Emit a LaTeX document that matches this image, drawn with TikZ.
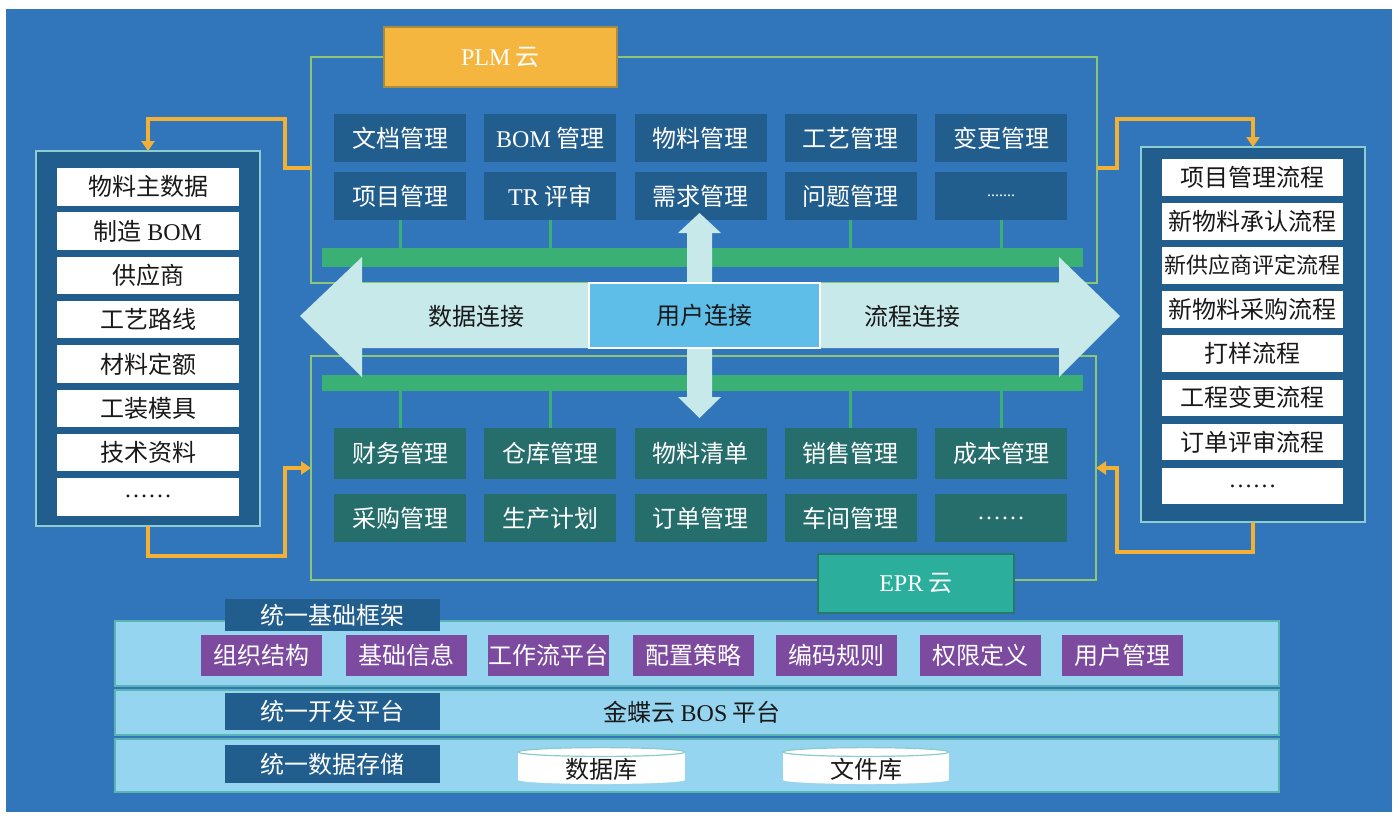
\documentclass[tikz,border=0pt]{standalone}
\usepackage{fontspec}
\setmainfont{Liberation Serif}
\newfontfamily\cjk{Noto Sans CJK SC}
\usetikzlibrary{arrows.meta}
\definecolor{bgblue}{RGB}{49,117,186}
\definecolor{dkblue}{RGB}{33,93,141}
\definecolor{dkteal}{RGB}{37,110,108}
\definecolor{busgreen}{RGB}{58,176,116}
\definecolor{framegreen}{RGB}{140,198,118}
\definecolor{orng}{RGB}{242,177,52}
\definecolor{plmorange}{RGB}{244,182,62}
\definecolor{arrowcyan}{RGB}{200,233,234}
\definecolor{userblue}{RGB}{94,190,232}
\definecolor{bandblue}{RGB}{150,213,240}
\definecolor{bandedge}{RGB}{90,180,180}
\definecolor{purp}{RGB}{124,74,158}
\definecolor{eprteal}{RGB}{44,174,156}
\definecolor{panelborder}{RGB}{140,205,210}
\definecolor{txtdark}{RGB}{25,25,25}
\newcommand\lt[1]{{\rmfamily #1}}
\newcommand\bx[7]{\pgfmathsetmacro\myw{(#4-#2)*0.5}\pgfmathsetmacro\myh{(#5-#3)*0.5}\node[#6,minimum width=\myw pt,minimum height=\myh pt] (#1) at ({(#2+#4)/2},{(#3+#5)/2}) {#7};}
\tikzset{
  every node/.style={inner sep=0pt, outer sep=0pt, font=\cjk\fontsize{12}{14}\selectfont},
  sModP/.style={fill=dkblue, text=white},
  sModE/.style={fill=dkteal, text=white},
  sFrame/.style={draw=framegreen, line width=1.2pt},
  sBus/.style={fill=busgreen},
  sStub/.style={draw=busgreen, line width=1.5pt},
  sPanel/.style={fill=dkblue, draw=panelborder, line width=1pt},
  sItem/.style={fill=white, text=txtdark},
  sOr/.style={draw=orng, line width=1.8pt, -{Triangle[length=5pt,width=6.5pt]}},
  sBand/.style={fill=bandblue, draw=bandedge, line width=1pt},
  sLab/.style={fill=dkblue, text=white},
  sPur/.style={fill=purp, text=white},
  sArr/.style={fill=arrowcyan},
  sCyl/.style={fill=white},
}
\begin{document}
\begin{tikzpicture}[x=0.5pt,y=-0.5pt]
\fill[white] (0,0) rectangle (1400,821);
\useasboundingbox (0,0) rectangle (1400,821);
\fill[bgblue] (6,9) rectangle (1392,812);

% cloud frames
\bx{plmf}{311}{57}{1097}{283}{sFrame}{}
\bx{eprf}{311}{356}{1096}{580}{sFrame}{}

% buses
\bx{plmbus}{322}{248}{1083}{267}{sBus}{}
\bx{eprbus}{322}{375}{1083}{391}{sBus}{}

% PLM modules
\foreach \t [count=\k from 0] in {文档管理,{\lt{BOM} 管理},物料管理,工艺管理,变更管理}{
  \pgfmathsetmacro\xa{334+150.25*\k}\pgfmathsetmacro\xb{\xa+132}
  \bx{pa\k}{\xa}{114}{\xb}{162}{sModP}{\t}}
\foreach \t [count=\k from 0] in {项目管理,{\lt{TR} 评审},需求管理,问题管理,{\lt{\fontsize{8}{8}\selectfont .......}}}{
  \pgfmathsetmacro\xa{334+150.25*\k}\pgfmathsetmacro\xb{\xa+132}
  \bx{pb\k}{\xa}{172}{\xb}{220}{sModP}{\t}}
\foreach \k in {0,1,3,4}{\draw[sStub] (pb\k.south) -- (pb\k.south |- plmbus.north);}

% EPR modules
\foreach \t [count=\k from 0] in {财务管理,仓库管理,物料清单,销售管理,成本管理}{
  \pgfmathsetmacro\xa{334+150.25*\k}\pgfmathsetmacro\xb{\xa+132}
  \bx{ea\k}{\xa}{428}{\xb}{479}{sModE}{\t}}
\foreach \t [count=\k from 0] in {采购管理,生产计划,订单管理,车间管理,\lt{……}}{
  \pgfmathsetmacro\xa{334+150.25*\k}\pgfmathsetmacro\xb{\xa+132}
  \bx{eb\k}{\xa}{494}{\xb}{542}{sModE}{\t}}
\foreach \k in {0,1,3,4}{\draw[sStub] (eprbus.south -| ea\k.north) -- (ea\k.north);}

% cloud labels
\bx{plm}{384}{27}{617}{87}{fill=plmorange, draw={rgb,255:red,170;green,140;blue,60}, line width=0.8pt, text=white}{\lt{PLM} 云}
\bx{epr}{818}{554}{1014}{613}{fill=eprteal, draw={rgb,255:red,40;green,120;blue,110}, line width=0.8pt, text=white}{\lt{EPR} 云}

% side panels
\bx{lp}{36}{151}{260}{526}{sPanel}{}
\foreach \t [count=\k from 0] in {物料主数据,{制造 \lt{BOM}},供应商,工艺路线,材料定额,工装模具,技术资料,\lt{……}}{
  \pgfmathsetmacro\ya{168+44.3*\k}\pgfmathsetmacro\yb{\ya+37.5}
  \bx{li\k}{57}{\ya}{239}{\yb}{sItem}{\t}}
\bx{rp}{1141}{147}{1365}{522}{sPanel}{}
\foreach \t [count=\k from 0] in {项目管理流程,新物料承认流程,{\fontsize{11}{12}\selectfont 新供应商评定流程},新物料采购流程,打样流程,工程变更流程,订单评审流程,\lt{……}}{
  \pgfmathsetmacro\ya{159+44.1*\k}\pgfmathsetmacro\yb{\ya+36.5}
  \bx{ri\k}{1162}{\ya}{1343}{\yb}{sItem}{\t}}

% orange connectors
\draw[sOr] (plmf.west |- 0,168) -| (285,119) -| (lp.north);
\draw[sOr] (lp.south) |- (285,556) |- (eprf.west |- 0,468);
\draw[sOr] (plmf.east |- 0,168) -| (1117,119) -| (rp.north);
\draw[sOr] (rp.south) |- (1117,552) |- (eprf.east |- 0,468);

% central arrows
\fill[sArr] (300,316) -- (362,257) -- (362,283) -- (1059,283) -- (1059,257) -- (1120,316)
  -- (1059,377) -- (1059,348) -- (362,348) -- (362,377) -- cycle;
\fill[sArr] (699.5,213) -- (721,233) -- (712,233) -- (712,397) -- (721,397) -- (699.5,418)
  -- (678,397) -- (687,397) -- (687,233) -- (678,233) -- cycle;
\node[text=txtdark] (data) at (476,316) {数据连接};
\node[text=txtdark] (flow) at (912,316) {流程连接};
\bx{user}{589}{283}{820}{348}{fill=userblue, draw=white, line width=1pt, text=txtdark}{用户连接}

% bottom platform
\bx{b1}{115}{621}{1279}{686}{sBand}{}
\bx{b2}{115}{690}{1279}{735}{sBand}{}
\bx{b3}{115}{739}{1279}{792}{sBand}{}
\bx{l1}{225}{599}{440}{631}{sLab}{统一基础框架}
\bx{l2}{225}{693}{440}{730}{sLab}{统一开发平台}
\bx{l3}{225}{745}{440}{783}{sLab}{统一数据存储}
\foreach \t/\xa [count=\k] in {组织结构/201,基础信息/346,工作流平台/488,配置策略/633,编码规则/776,权限定义/920,用户管理/1062}{
  \pgfmathsetmacro\xb{\xa+121}
  \bx{pu\k}{\xa}{635}{\xb}{676}{sPur}{\t}}
\node[text=txtdark] (bos) at (692,712) {金蝶云 \lt{BOS} 平台};

% cylinders
\fill[white] (601.5,780) ellipse [x radius=41.75pt, y radius=2pt];
\bx{db}{518}{752}{685}{780}{sCyl}{}
\draw[fill=white, draw=bandedge!70, line width=0.6pt] (db.north) ellipse [x radius=41.75pt, y radius=2.2pt];
\node[text=txtdark] (dbt) at (601.5,769) {数据库};
\fill[white] (866,780) ellipse [x radius=41.5pt, y radius=2pt];
\bx{fk}{783}{752}{949}{780}{sCyl}{}
\draw[fill=white, draw=bandedge!70, line width=0.6pt] (fk.north) ellipse [x radius=41.5pt, y radius=2.2pt];
\node[text=txtdark] (fkt) at (866,769) {文件库};
\end{tikzpicture}
\end{document}
